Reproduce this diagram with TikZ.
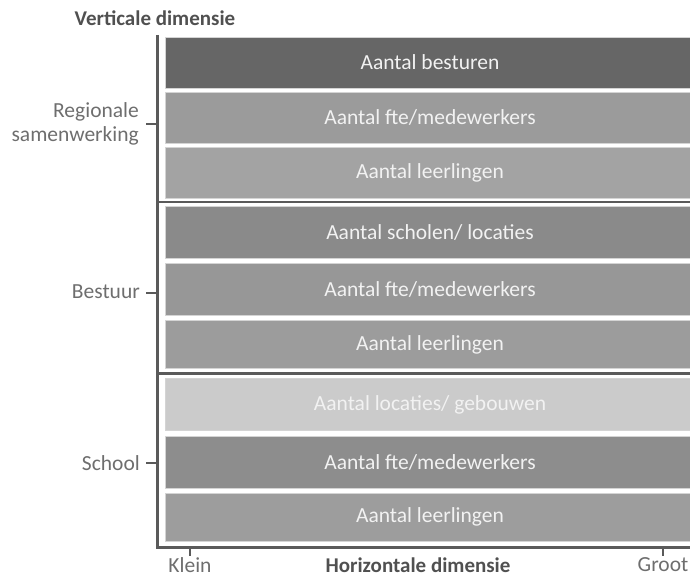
\documentclass[tikz,border=0pt]{standalone}
\usepackage{fontspec}
\setmainfont{Carlito}
\definecolor{axisgray}{HTML}{5A5A5A}
\definecolor{labelgray}{HTML}{6E6E6E}
\definecolor{titlegray}{HTML}{505050}
\definecolor{boxtext}{HTML}{F2F2F2}
\definecolor{edgegray}{HTML}{D4D4D4}
\definecolor{cA}{HTML}{666666}
\definecolor{cB}{HTML}{9B9B9B}
\definecolor{cC}{HTML}{A3A3A3}
\definecolor{cD}{HTML}{8A8A8A}
\definecolor{cE}{HTML}{979797}
\definecolor{cF}{HTML}{9C9C9C}
\definecolor{cG}{HTML}{CBCBCB}
\definecolor{cH}{HTML}{8D8D8D}
\definecolor{cI}{HTML}{9D9D9D}
\tikzset{
  bar/.style={rectangle, draw=edgegray, line width=0.8pt, inner sep=0pt,
    minimum width=530pt, text=boxtext,
    font=\fontsize{21.5}{25}\selectfont},
  axisline/.style={draw=axisgray, line width=3pt},
  sepline/.style={draw=axisgray, line width=2.5pt},
  tickline/.style={draw=axisgray, line width=2.5pt},
  lab/.style={text=labelgray, inner sep=0pt, font=\fontsize{21.5}{24}\selectfont},
  title/.style={text=titlegray, inner sep=0pt, font=\fontsize{21}{24}\selectfont\bfseries}
}
\begin{document}
\begin{tikzpicture}[x=1pt,y=-1pt]
\useasboundingbox (0,0) rectangle (690,577);
% bars
\node[bar, fill=cA, minimum height=51pt] (b1) at (430,62.5) {Aantal besturen};
\node[bar, fill=cB, minimum height=51pt] (b2) at (430,117.5) {Aantal fte/medewerkers};
\node[bar, fill=cC, minimum height=51pt] (b3) at (430,172.5) {Aantal leerlingen};
\node[bar, fill=cD, minimum height=52pt] (b4) at (430,232.5) {Aantal scholen/ locaties};
\node[bar, fill=cE, minimum height=52pt] (b5) at (430,289) {Aantal fte/medewerkers};
\node[bar, fill=cF, minimum height=48pt] (b6) at (430,344.5) {Aantal leerlingen};
\node[bar, fill=cG, minimum height=52pt] (b7) at (430,404.5) {Aantal locaties/ gebouwen};
\node[bar, fill=cH, minimum height=52pt] (b8) at (430,462) {Aantal fte/medewerkers};
\node[bar, fill=cI, minimum height=48pt] (b9) at (430,517) {Aantal leerlingen};
% axes
\coordinate (top) at (157.5,35);
\coordinate (origin) at (157.5,547);
\coordinate (right) at (692,547);
\draw[axisline] (top) -- (origin) -- (right);
% group separators
\coordinate (s1l) at (157.5,202);
\coordinate (s1r) at (692,202);
\coordinate (s2l) at (157.5,373.5);
\coordinate (s2r) at (692,373.5);
\draw[sepline] (s1l) -- (s1r);
\draw[sepline] (s2l) -- (s2r);
% titles
\node[title] (vt) at (155,18) {Verticale dimensie};
\node[title] (ht) at (418,565) {Horizontale dimensie};
% vertical labels
\node[lab, anchor=east, align=right] (reg) at (139,124) {Regionale\\samenwerking};
\node[lab, anchor=east] (bes) at (140,292) {Bestuur};
\node[lab, anchor=east] (sch) at (140,463) {School};
\coordinate (t1a) at (146,124);
\coordinate (t1b) at (157.5,124);
\coordinate (t2a) at (146,293);
\coordinate (t2b) at (157.5,293);
\coordinate (t3a) at (146,463);
\coordinate (t3b) at (157.5,463);
\draw[tickline] (t1a) -- (t1b);
\draw[tickline] (t2a) -- (t2b);
\draw[tickline] (t3a) -- (t3b);
% horizontal labels
\node[lab] (klein) at (190,565) {Klein};
\node[lab] (groot) at (663,565) {Groot};
\coordinate (k1) at (190,547);
\coordinate (k2) at (190,556);
\coordinate (g1) at (663,547);
\coordinate (g2) at (663,556);
\draw[tickline] (k1) -- (k2);
\draw[tickline] (g1) -- (g2);
\end{tikzpicture}
\end{document}
